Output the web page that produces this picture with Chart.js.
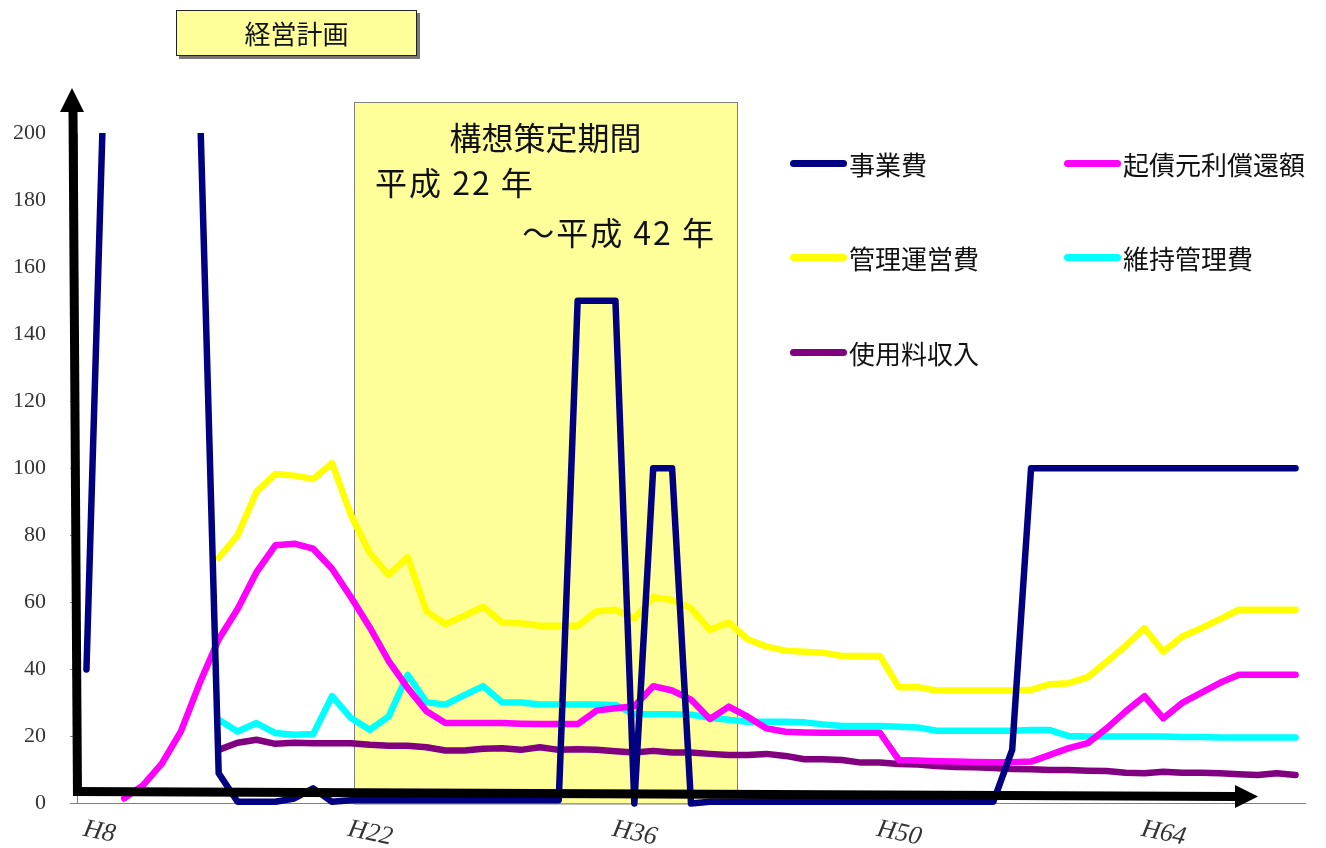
<!DOCTYPE html>
<html>
<head>
<meta charset="utf-8">
<script src="https://cdn.jsdelivr.net/npm/chart.js@4/dist/chart.umd.min.js"></script>
<style>
body { margin: 0; background: #fff; }
#wrap { position: relative; width: 1326px; height: 848px; font-family: "Noto Sans CJK JP", sans-serif; color: #111; }
#chart { position: absolute; left: 0; top: 0; }
.title { position: absolute; left: 176px; top: 10px; width: 239px; height: 44px; background: #FFFF99;
  border: 1.5px solid #222; box-shadow: 3px 3px 0 #777; font-size: 26px; line-height: 44px; text-align: center; }
.ptext { position: absolute; font-size: 32px; line-height: 32px; white-space: nowrap; }
.ptext.date { letter-spacing: 2px; }
.legend-item { position: absolute; height: 30px; display: flex; align-items: center; font-size: 26px; white-space: nowrap; }
.legend-item span.swatch { display: inline-block; width: 57px; height: 7px; border-radius: 4px; margin-right: 2px; }
</style>
</head>
<body>
<div id="wrap">
  <canvas id="chart" width="1326" height="848"></canvas>
  <div class="title">経営計画</div>
  <div class="ptext" style="left:354px; width:383px; top:120px; text-align:center;">構想策定期間</div>
  <div class="ptext date" style="left:375px; top:165px;">平成 22 年</div>
  <div class="ptext date" style="right:610px; top:215px;">～平成 42 年</div>
  <div id="legend"></div>
</div>
<script>
// 年度（H8〜H72）
const years = ['H8','H9','H10','H11','H12','H13','H14','H15','H16','H17','H18','H19','H20','H21',
  'H22','H23','H24','H25','H26','H27','H28','H29','H30','H31','H32','H33','H34','H35',
  'H36','H37','H38','H39','H40','H41','H42','H43','H44','H45','H46','H47','H48','H49',
  'H50','H51','H52','H53','H54','H55','H56','H57','H58','H59','H60','H61','H62','H63',
  'H64','H65','H66','H67','H68','H69','H70','H71','H72'];
const tickYears = ['H8','H22','H36','H50','H64'];
const periodStart = 'H22';
const periodEnd = 'H42';

const jigyouhi = [40,230,230,230,230,230,210,9,0.5,0.5,0.5,1.5,4.5,0.5,
  1,1,1,1,1,1,1,1,1,1,1,1,150,150,
  150,0,100,100,0,0.5,0.5,0.5,0.5,0.5,0.5,0.5,0.5,0.5,
  0.5,0.5,0.5,0.5,0.5,0.5,0.5,16,100,100,100,100,100,100,
  100,100,100,100,100,100,100,100,100];
const kisai = [null,null,1.5,5.5,12,21.5,36,49,58,69,77,77.5,76,70,
  61.5,52.5,42.5,34.5,27.5,24,24,24,24,23.8,23.7,23.7,23.7,27.7,
  28.4,29,35,33.7,31,25.2,28.9,25.9,22.4,21.4,21.2,21.1,21.1,21.1,
  21.1,13,12.8,12.6,12.5,12.4,12.3,12.3,12.5,14.5,16.5,18,22.4,27.4,
  32,25.4,30,33,36,38.4,38.4,38.4,38.4];
const kanriUnei = [null,null,null,null,null,null,null,73.3,80,93,98.3,97.8,96.8,101.5,
  86,74.7,68.2,73.5,57.3,53.5,56,58.7,54,53.8,53,53,53,57.3,
  57.8,55.2,61.5,60.7,58.3,51.8,54,49,46.8,45.6,45.3,45,44,44,
  44,34.7,34.7,33.7,33.7,33.7,33.7,33.7,33.9,35.6,35.9,37.7,42.3,47,
  52.3,45.3,49.8,52.3,55,57.8,57.8,57.8,57.8];
const ijiKanri = [null,null,null,null,null,null,null,25,21.5,24,21,20.5,20.7,32,
  25.5,22,26,38.4,30.2,29.5,32.3,35,30.2,30.1,29.5,29.5,29.5,29.5,
  29.4,26.6,26.6,26.6,26.5,25.6,25,24.4,24.4,24.4,24.2,23.6,23.1,23.1,
  23.1,22.9,22.7,21.7,21.7,21.7,21.7,21.7,21.9,21.9,20.1,20,20,20,
  20,20,19.8,19.8,19.7,19.7,19.7,19.7,19.7];
const shiyouryou = [null,null,null,null,null,null,null,16,18.1,19,17.8,18.1,18,18,
  18,17.5,17.2,17.2,16.8,15.8,15.8,16.3,16.5,16,16.8,16,16.2,16,
  15.6,15.2,15.7,15.2,15.2,14.8,14.5,14.5,14.8,14.2,13.2,13.2,13,12.2,
  12.2,11.8,11.6,11.2,10.9,10.8,10.6,10.3,10.2,10,10,9.8,9.7,9.2,
  9,9.5,9.2,9.2,9,8.7,8.5,9,8.5];

const seriesNames = ['事業費','起債元利償還額','管理運営費','維持管理費','使用料収入'];
const seriesColors = ['#000080','#FF00FF','#FFFF00','#00FFFF','#800080'];
const seriesValues = [jigyouhi, kisai, kanriUnei, ijiKanri, shiyouryou];

// 凡例
const legendEl = document.getElementById('legend');
seriesNames.forEach((name, i) => {
    const item = document.createElement('div');
    item.className = 'legend-item';
    item.style.left = (790 + (i % 2) * 274) + 'px';
    item.style.top = (148 + Math.floor(i / 2) * 94.5) + 'px';
    item.innerHTML = '<span class="swatch" style="background:' + seriesColors[i] + '"></span>' + name;
    legendEl.appendChild(item);
});

// 構想策定期間の網掛け
const periodBox = {
    id: 'periodBox',
    beforeDatasetsDraw(chart) {
        const {ctx, chartArea, scales: {x}} = chart;
        const l = Math.round(x.getPixelForValue(years.indexOf(periodStart))) + 3;
        const r = Math.round(x.getPixelForValue(years.indexOf(periodEnd))) + 8;
        ctx.save();
        ctx.fillStyle = '#FFFF99';
        ctx.fillRect(l, 102, r - l, chartArea.bottom - 102);
        ctx.strokeStyle = '#808080';
        ctx.lineWidth = 1;
        ctx.strokeRect(l + 0.5, 102.5, r - l, chartArea.bottom - 102);
        ctx.restore();
    }
};

// 黒い矢印（軸の強調）
const axisArrows = {
    id: 'axisArrows',
    afterDatasetsDraw(chart) {
        const {ctx, chartArea: a} = chart;
        ctx.save();
        ctx.strokeStyle = '#000';
        ctx.fillStyle = '#000';
        ctx.lineWidth = 9;
        ctx.lineCap = 'butt';
        ctx.beginPath();
        ctx.moveTo(a.left + 0.5, a.bottom - 7.5);
        ctx.lineTo(a.left - 4, 110);
        ctx.stroke();
        ctx.beginPath();
        ctx.moveTo(a.left - 5, 88);
        ctx.lineTo(a.left - 17, 112);
        ctx.lineTo(a.left + 7, 112);
        ctx.closePath();
        ctx.fill();
        ctx.beginPath();
        ctx.moveTo(a.left - 4, a.bottom - 12);
        ctx.lineTo(1237, a.bottom - 7);
        ctx.stroke();
        ctx.beginPath();
        ctx.moveTo(1258, a.bottom - 7);
        ctx.lineTo(1235, a.bottom - 18.5);
        ctx.lineTo(1235, a.bottom + 4.5);
        ctx.closePath();
        ctx.fill();
        ctx.restore();
    }
};

// 横軸ラベル（斜め）
const yearLabels = {
    id: 'yearLabels',
    afterDraw(chart) {
        const {ctx, scales: {x}} = chart;
        ctx.save();
        ctx.fillStyle = '#333';
        ctx.font = 'italic 26px "Liberation Serif"';
        ctx.textAlign = 'left';
        ctx.textBaseline = 'top';
        tickYears.forEach(label => {
            const px = x.getPixelForValue(years.indexOf(label));
            ctx.save();
            ctx.translate(px, 816);
            ctx.rotate(12 * Math.PI / 180);
            ctx.fillText(label, 0, 0);
            ctx.restore();
        });
        ctx.restore();
    }
};

const datasets = seriesNames.map((name, i) => ({
    label: name,
    data: seriesValues[i],
    borderColor: seriesColors[i],
    backgroundColor: seriesColors[i],
    clip: {left: 10, top: 0, right: 10, bottom: 10}
}));

new Chart(document.getElementById('chart'), {
    type: 'line',
    data: { labels: years, datasets },
    options: {
        responsive: false,
        animation: false,
        layout: { padding: { top: 133, right: 21, left: 0, bottom: 0 } },
        plugins: { legend: { display: false }, tooltip: { enabled: false } },
        elements: {
            point: { radius: 0 },
            line: { borderWidth: 6.5, borderCapStyle: 'round', borderJoinStyle: 'round', tension: 0 }
        },
        scales: {
            x: {
                offset: true,
                grid: { display: false },
                border: { display: true, color: '#808080', width: 1 },
                ticks: { display: false },
                afterFit: s => { s.height = 44.5; }
            },
            y: {
                min: 0,
                max: 200,
                ticks: { stepSize: 20, padding: 24, color: '#333', font: { family: 'Liberation Serif', size: 22 } },
                grid: { drawOnChartArea: false, drawTicks: true, tickLength: 7, color: '#808080' },
                border: { display: true, color: '#808080', width: 1 },
                afterFit: s => { s.width = 77; }
            }
        }
    },
    plugins: [periodBox, axisArrows, yearLabels]
});
</script>
</body>
</html>
